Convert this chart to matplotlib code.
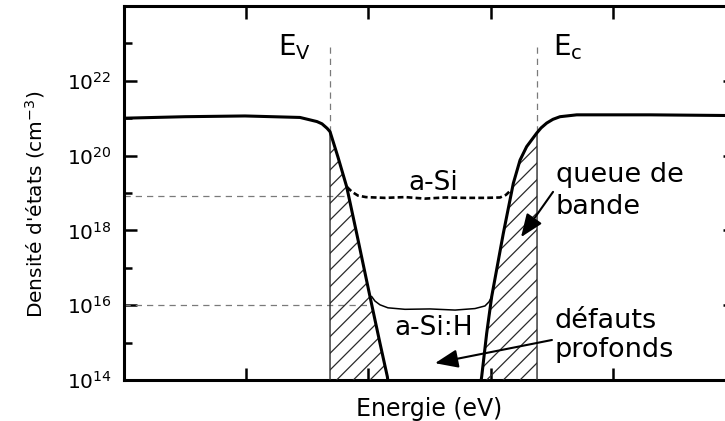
import numpy as np
import matplotlib
matplotlib.use('Agg')
import matplotlib.pyplot as plt
from matplotlib.ticker import FixedLocator, NullFormatter, LogFormatterSciNotation

plt.rcParams['font.family'] = ['DejaVu Sans']
plt.rcParams['mathtext.fontset'] = 'dejavusans'
plt.rcParams['hatch.linewidth'] = 0.9

# ---------------- data (energy in arbitrary units, log10 of density) -------------
E_V = 1.686
E_C = 3.380

plateau_left_x = [0.0, 0.499, 0.990, 1.440, 1.579, 1.620, 1.662]
plateau_left_logN = [21.00, 21.04, 21.06, 21.02, 20.91, 20.85, 20.73]

tail_left_x = [1.686, 1.751, 1.822, 1.904, 2.013, 2.095, 2.155, 2.164]
tail_left_logN = [20.64, 19.96, 19.17, 17.92, 16.23, 14.98, 14.09, 13.87]

tail_right_x = [2.917, 2.927, 2.968, 3.009, 3.104, 3.186, 3.241, 3.295, 3.377]
tail_right_logN = [13.87, 14.09, 15.25, 16.23, 17.92, 19.26, 19.88, 20.24, 20.60]

plateau_right_x = [3.413, 3.459, 3.510, 3.568, 3.705, 4.304, 5.0]
plateau_right_logN = [20.74, 20.87, 20.97, 21.04, 21.09, 21.09, 21.07]

aSi_x = [1.825, 1.866, 1.915, 1.980, 2.136, 2.300, 2.463, 2.627, 2.790, 2.954, 3.077, 3.126, 3.167]
aSi_logN = [19.16, 19.03, 18.93, 18.89, 18.87, 18.89, 18.85, 18.88, 18.87, 18.87, 18.88, 18.95, 19.08]

aSiH_x = [2.027, 2.054, 2.095, 2.160, 2.299, 2.504, 2.709, 2.872, 2.954, 2.987, 3.009]
aSiH_logN = [16.23, 16.11, 16.01, 15.93, 15.89, 15.90, 15.87, 15.91, 15.98, 16.09, 16.23]

level_aSi = 18.92
level_aSiH = 16.0

y_major = [14, 16, 18, 20, 22]
y_minor = [15, 17, 19, 21, 23]
x_ticks = [1, 2, 3, 4]

# ---------------- figure ----------------
fig = plt.figure(figsize=(7.25, 4.21), dpi=100)
ax = fig.add_axes([124/725, 41/421, 611/725, 374/421])
ax.set_yscale('log')
ax.set_xlim(0, 5)
ax.set_ylim(1e14, 1e24)

p = lambda v: 10.0 ** np.asarray(v, dtype=float)

# main curve drawn as two pieces (valence and conduction side)
ax.plot(plateau_left_x + tail_left_x, p(plateau_left_logN + tail_left_logN),
        color='black', lw=2.2, zorder=5, solid_joinstyle='round')
ax.plot(tail_right_x + plateau_right_x, p(tail_right_logN + plateau_right_logN),
        color='black', lw=2.2, zorder=5, solid_joinstyle='round')

# hatched tails
ax.fill_betweenx(p(tail_left_logN), E_V, tail_left_x, facecolor='none',
                 edgecolor='#2a2a2a', hatch='//', lw=1.0, zorder=3)
ax.fill_betweenx(p(tail_right_logN), tail_right_x, E_C, facecolor='none',
                 edgecolor='#2a2a2a', hatch='//', lw=1.0, zorder=3)

# a-Si and a-Si:H
ax.plot(aSi_x, p(aSi_logN), color='black', lw=1.9, ls=(0, (2.2, 1.2)), zorder=4)
ax.plot(aSiH_x, p(aSiH_logN), color='black', lw=1.1, zorder=4)

# guide lines
gray = '#7a7a7a'
ax.plot([0, aSi_x[0]], p([level_aSi, level_aSi]), color=gray, lw=0.9, ls=(0, (5, 4)), zorder=2)
ax.plot([0, aSiH_x[0]], p([level_aSiH, level_aSiH]), color=gray, lw=0.9, ls=(0, (5, 4)), zorder=2)
ax.plot([E_V, E_V], p([22.9, tail_left_logN[0]]), color=gray, lw=0.9, ls=(0, (5, 4)), zorder=2)
ax.plot([E_C, E_C], p([22.9, tail_right_logN[-1]]), color=gray, lw=0.9, ls=(0, (5, 4)), zorder=2)

# texts
ax.text(1.26, p(22.69), r'$\mathrm{E}_{\mathrm{V}}$', fontsize=20, ha='left', va='baseline')
ax.text(3.511, p(22.69), r'$\mathrm{E}_{\mathrm{c}}$', fontsize=20, ha='left', va='baseline')
ax.text(2.529, p(19.27), 'a-Si', fontsize=19, ha='center', va='center')
ax.text(2.537, p(15.39), 'a-Si:H', fontsize=19, ha='center', va='center')
ax.text(3.535, p(19.29), 'queue de', fontsize=19.5, ha='left', va='baseline')
ax.text(3.535, p(18.44), 'bande', fontsize=19.5, ha='left', va='baseline')
ax.text(3.527, p(15.39), 'défauts', fontsize=19.5, ha='left', va='baseline')
ax.text(3.527, p(14.61), 'profonds', fontsize=19.5, ha='left', va='baseline')

arrow = dict(arrowstyle='-|>,head_length=0.7,head_width=0.28', color='black',
             lw=1.5, mutation_scale=20, shrinkA=0, shrinkB=0)
ax.annotate('', xy=(3.249, p(17.82)), xytext=(3.511, p(19.03)), arrowprops=arrow, zorder=6)
ax.annotate('', xy=(2.545, p(14.45)), xytext=(3.502, p(15.07)), arrowprops=arrow, zorder=6)

# axes styling
for s in ax.spines.values():
    s.set_linewidth(2.2)
ax.yaxis.set_major_locator(FixedLocator(p(y_major)))
ax.yaxis.set_minor_locator(FixedLocator(p(y_minor)))
ax.yaxis.set_major_formatter(LogFormatterSciNotation())
ax.yaxis.set_minor_formatter(NullFormatter())
ax.set_xticks(x_ticks)
ax.set_xticklabels([])
ax.tick_params(axis='both', which='major', direction='in', length=9, width=1.8,
               top=True, right=True, labelsize=14.5)
ax.tick_params(axis='both', which='minor', direction='in', length=5.5, width=1.8,
               top=True, right=True)
ax.tick_params(axis='y', which='major', pad=9)
ax.xaxis.set_minor_locator(FixedLocator([]))

ax.set_xlabel('Energie (eV)', fontsize=17, labelpad=9)
ax.set_ylabel("Densité d'états (cm$^{-3}$)", fontsize=14.5)
ax.yaxis.set_label_coords(-0.126, 0.47)

fig.savefig('out.png', dpi=100)
